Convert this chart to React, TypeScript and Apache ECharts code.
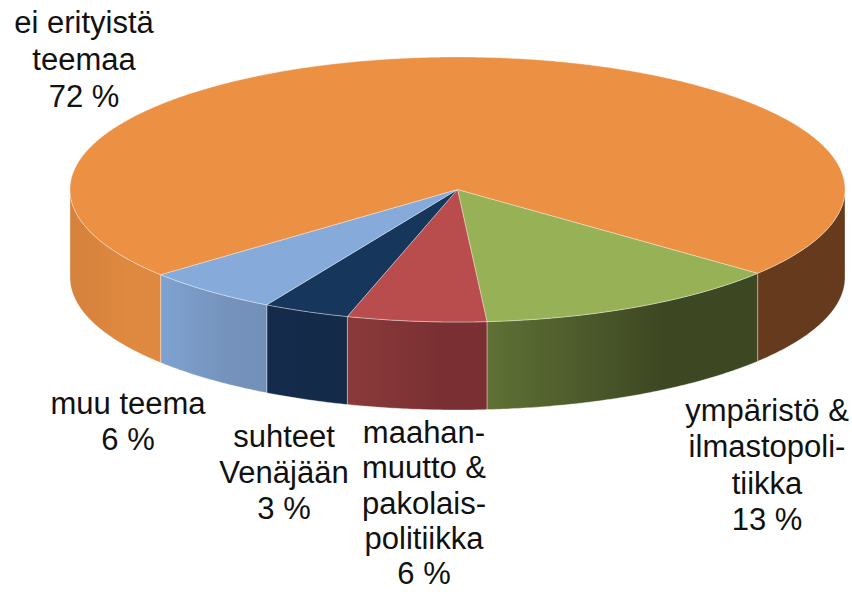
import React, { useEffect, useRef } from "react";
import * as echarts from "echarts";

const categories = ["ympäristö & ilmastopolitiikka", "maahanmuutto & pakolaispolitiikka", "suhteet Venäjään", "muu teema", "ei erityistä teemaa"];
// slice sizes (the printed labels are rounded)
const shares = [12.9, 5.8, 3.6, 5.7, 72.0];
const topColors = ["#97b256", "#b94d4d", "#17365c", "#86aad9", "#ec9044"];
const sideColors: string[][] = [
  ["#5f7135", "#3d4722", "#3d4722"],
  ["#8b3a3a", "#7a3033", "#7a3033"],
  ["#142b4b", "#132a49", "#132a49"],
  ["#7fa2d0", "#7492bb", "#7290b8"],
  ["#d5823d", "#df883f", "#df883f"],
];
const wrapSideColors = ["#663a1c", "#663a1c", "#663a1c"];
const labels = [
  "ympäristö &\nilmastopoli-\ntiikka\n13 %",
  "maahan-\nmuutto &\npakolais-\npolitiikka\n6 %",
  "suhteet\nVenäjään\n3 %",
  "muu teema\n6 %",
  "ei erityistä\nteemaa\n72 %",
];

const CX = 457.5, CY = 189.5, RX = 387.5, RY = 132.5, DEPTH = 88, START = 39.2;
const LABEL_POS = [
  [767, 392],
  [424, 415],
  [284, 418],
  [128, 385],
  [84, 4],
];
const LABEL_LINE = [36.5, 35.2, 36, 36, 37];
const FONT = '"Liberation Sans", Arial, sans-serif';
const EDGE = "rgba(255,255,255,0.35)";

const pt = (deg: number, dy = 0): number[] => {
  const a = (deg * Math.PI) / 180;
  return [CX + RX * Math.cos(a), CY + RY * Math.sin(a) + dy];
};
const arc = (from: number, to: number, dy = 0): number[][] => {
  const out: number[][] = [];
  const n = Math.max(2, Math.ceil(Math.abs(to - from) * 2));
  for (let i = 0; i <= n; i++) out.push(pt(from + ((to - from) * i) / n, dy));
  return out;
};
const sidePolygon = (from: number, to: number, colors: string[]) => ({
  type: "polygon",
  shape: { points: [...arc(from, to), ...arc(to, from, DEPTH)] },
  style: {
    fill: new echarts.graphic.LinearGradient(0, 0, 1, 0, [
      { offset: 0, color: colors[0] },
      { offset: 0.65, color: colors[1] },
      { offset: 1, color: colors[2] },
    ]),
    stroke: EDGE,
    lineWidth: 1,
  },
});

export default function App() {
  const ref = useRef<HTMLDivElement>(null);
  useEffect(() => {
    const chart = echarts.init(ref.current!, null, { renderer: "svg" });
    const total = shares.reduce((a, b) => a + b, 0);
    chart.setOption({
      animation: false,
      backgroundColor: "#ffffff",
      series: [
        {
          type: "custom",
          coordinateSystem: "none",
          silent: true,
          data: categories.map((name, i) => ({ name, value: [shares[i]] })),
          renderItem: (params: any, api: any) => {
            const i = params.dataIndex;
            let before = 0;
            for (let k = 0; k < i; k++) before += shares[k];
            const from = START + (before / total) * 360;
            const to = from + ((api.value(0) as number) / total) * 360;
            const children: any[] = [];
            const lo1 = Math.max(from, 0), hi1 = Math.min(to, 180);
            if (hi1 > lo1) children.push(sidePolygon(lo1, hi1, sideColors[i]));
            const lo2 = Math.max(from, 360), hi2 = Math.min(to, 540);
            if (hi2 > lo2) children.push(sidePolygon(lo2, hi2, wrapSideColors));
            children.push({
              type: "polygon",
              shape: { points: [[CX, CY], ...arc(from, to)] },
              style: { fill: topColors[i], stroke: EDGE, lineWidth: 1 },
            });
            return { type: "group", children };
          },
        },
      ],
      graphic: labels.map((text, i) => ({
        type: "text",
        x: LABEL_POS[i][0],
        y: LABEL_POS[i][1],
        z: 10,
        style: {
          text,
          fill: "#111111",
          font: `31px ${FONT}`,
          lineHeight: LABEL_LINE[i],
          align: "center",
          verticalAlign: "top",
        },
      })),
    });
    return () => chart.dispose();
  }, []);
  return <div ref={ref} style={{ position: "absolute", left: 0, top: 0, width: 852, height: 592 }} />;
}
